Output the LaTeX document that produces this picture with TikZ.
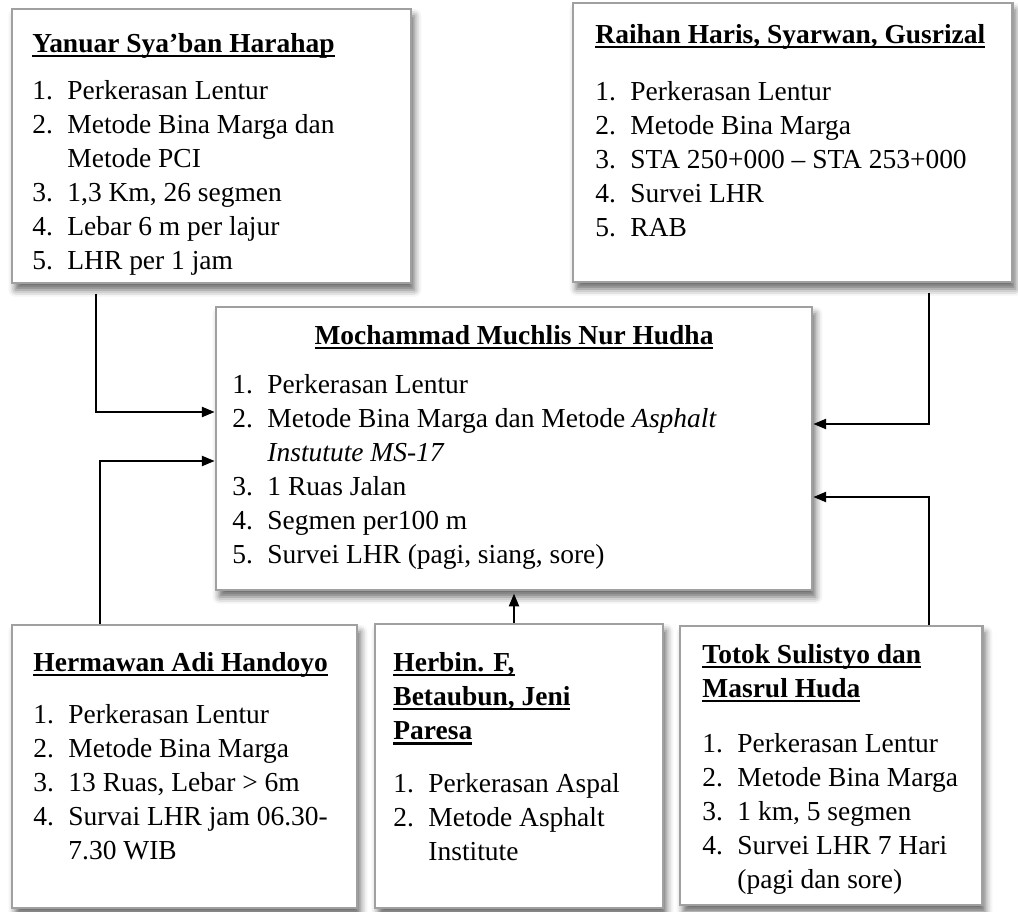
\documentclass[tikz,border=0pt]{standalone}
\usepackage{fontspec}
\setmainfont{Liberation Serif}
\usetikzlibrary{arrows.meta,shadows.blur,fit}

\definecolor{garisabu}{HTML}{A0A0A0}
% garis bawah ala Word (melewati huruf berekor)
\newcommand{\gb}[1]{\setbox0\hbox{#1}\rlap{\rule[-2.1pt]{\wd0}{1pt}}\box0}
\newcommand{\nr}[1]{\makebox[15.3pt][l]{#1.}}
\newcommand{\lanjut}{\hspace*{15.3pt}}

\tikzset{
  kotak/.style={draw=garisabu,line width=1.3pt,fill=white,inner sep=0pt,
    blur shadow={shadow xshift=1.5pt,shadow yshift=-3pt,shadow blur radius=3pt,
      shadow blur extra rounding=0pt,shadow opacity=60}},
  isi/.style={anchor=north west,inner sep=0pt,align=left,font=\fontsize{12}{14.9}\selectfont},
  judul/.style={inner sep=0pt,font=\fontsize{12}{14.9}\selectfont\bfseries},
  panah/.style={-{Triangle[length=5.5pt,width=4.5pt]},line width=0.5pt}
}

\begin{document}
\begin{tikzpicture}[x=0.437pt,y=-0.437pt]
\useasboundingbox (0,0) rectangle (1018,912);

%% kotak-kotak
\node[kotak,fit={(12,9) (411,283)}] (yanuar) {};
\node[kotak,fit={(573,3) (1012,282)}] (raihan) {};
\node[kotak,fit={(216,307) (812,590)}] (utama) {};
\node[kotak,fit={(12,625) (357,908)}] (hermawan) {};
\node[kotak,fit={(375,624) (663,908)}] (herbin) {};
\node[kotak,fit={(680,626) (982,905)}] (totok) {};

%% isi kotak atas
\node[isi] (yanuarT) at (32,33) {\gb{\textbf{Yanuar Sya'ban Harahap}}\\[5.6pt]
  \nr{1}Perkerasan Lentur\\
  \nr{2}Metode Bina Marga dan\\
  \lanjut Metode PCI\\
  \nr{3}1,3 Km, 26 segmen\\
  \nr{4}Lebar 6 m per lajur\\
  \nr{5}LHR per 1 jam};
\node[isi] (raihanT) at (595,24) {\gb{\textbf{Raihan Haris, Syarwan, Gusrizal}}\\[10pt]
  \nr{1}Perkerasan Lentur\\
  \nr{2}Metode Bina Marga\\
  \nr{3}STA 250+000 -- STA 253+000\\
  \nr{4}Survei LHR\\
  \nr{5}RAB};

%% isi kotak tengah
\node[judul] (utamaJ) at (514,337) {\gb{Mochammad Muchlis Nur Hudha}};
\node[isi] (utamaT) at (232,374) {\nr{1}Perkerasan Lentur\\
  \nr{2}Metode Bina Marga dan Metode \textit{Asphalt}\\
  \lanjut\textit{Instutute MS-17}\\
  \nr{3}1 Ruas Jalan\\
  \nr{4}Segmen per100 m\\
  \nr{5}Survei LHR (pagi, siang, sore)};

%% isi kotak bawah
\node[isi] (hermawanT) at (33,652) {\gb{\textbf{Hermawan Adi Handoyo}}\\[7.8pt]
  \nr{1}Perkerasan Lentur\\
  \nr{2}Metode Bina Marga\\
  \nr{3}13 Ruas, Lebar > 6m\\
  \nr{4}Survai LHR jam 06.30-\\
  \lanjut 7.30 WIB};
\node[isi] (herbinT) at (393,652) {\gb{\textbf{Herbin. F,}}\\
  \gb{\textbf{Betaubun, Jeni}}\\
  \gb{\textbf{Paresa}}\\[8.3pt]
  \nr{1}Perkerasan Aspal\\
  \nr{2}Metode Asphalt\\
  \lanjut Institute};
\node[isi] (totokT) at (702,644) {\gb{\textbf{Totok Sulistyo dan}}\\
  \gb{\textbf{Masrul Huda}}\\[9.1pt]
  \nr{1}Perkerasan Lentur\\
  \nr{2}Metode Bina Marga\\
  \nr{3}1 km, 5 segmen\\
  \nr{4}Survei LHR 7 Hari\\
  \lanjut(pagi dan sore)};

%% panah ke kotak tengah
\draw[panah] ([yshift=-4pt]yanuar.south -| 96,0) |- (utama.west |- 0,412);
\draw[panah] (hermawan.north -| 100,0) |- (utama.west |- 0,461);
\draw[panah] ([yshift=-4pt]raihan.south -| 929,0) |- (utama.east |- 0,424);
\draw[panah] (totok.north -| 929,0) |- (utama.east |- 0,497);
\draw[panah] (herbin.north -| utama.south) -- ([yshift=-1pt]utama.south);
\end{tikzpicture}
\end{document}
